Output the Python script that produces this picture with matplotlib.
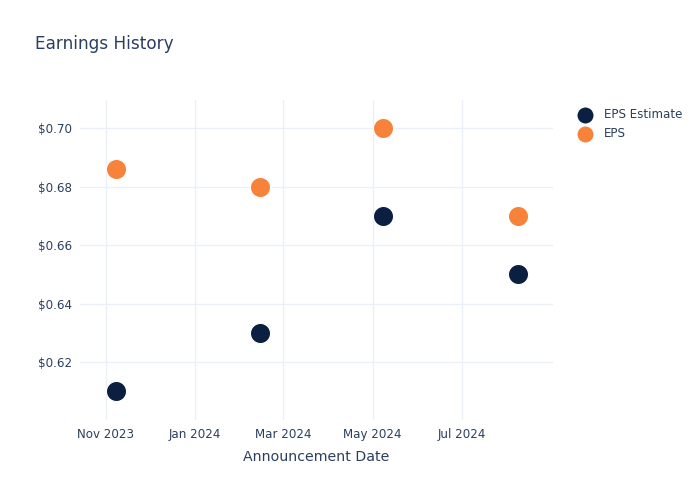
import numpy as np
import matplotlib.pyplot as plt
import matplotlib.dates as mdates
from datetime import datetime

# data
dates = ['2023-11-08', '2024-02-14', '2024-05-08', '2024-08-08']
eps_estimate = [0.61, 0.63, 0.67, 0.65]
eps_actual = [0.686, 0.68, 0.70, 0.67]
tick_dates = ['2023-11-01', '2024-01-01', '2024-03-01', '2024-05-01', '2024-07-01']
y_ticks = [0.62, 0.64, 0.66, 0.68, 0.70]

text_c = '#2a3f5f'
grid_c = '#ebf0f8'
navy = '#0b1f41'
orange = '#f7823a'

x = [datetime.strptime(d, '%Y-%m-%d') for d in dates]
xt = [datetime.strptime(d, '%Y-%m-%d') for d in tick_dates]

fig = plt.figure(figsize=(7, 5), dpi=100)
ax = fig.add_axes([80/700, 80/500, 473/700, 320/500])

ax.scatter(x, eps_estimate, s=210, color=navy, edgecolors='white', linewidths=0.8,
           label='EPS Estimate', zorder=3)
ax.scatter(x, eps_actual, s=210, color=orange, edgecolors='white', linewidths=0.8,
           label='EPS', zorder=3)

ax.set_xlim(datetime(2023, 10, 14, 12), datetime(2024, 9, 1))
ax.set_ylim(0.6002, 0.7096)
ax.set_xticks(xt)
ax.xaxis.set_major_formatter(mdates.DateFormatter('%b %Y'))
ax.set_yticks(y_ticks)
ax.yaxis.set_major_formatter(plt.FuncFormatter(lambda v, p: '${:.2f}'.format(v)))
ax.tick_params(length=0, labelsize=8.6, colors=text_c, pad=6)
ax.grid(True, color=grid_c, linewidth=1)
ax.set_axisbelow(True)
for s in ax.spines.values():
    s.set_visible(False)

ax.set_xlabel('Announcement Date', fontsize=10.2, color=text_c, labelpad=6.4)
fig.text(35/700, 1 - 44/500, 'Earnings History', fontsize=12.2, color=text_c, va='center')

fig.legend(loc='upper left', bbox_to_anchor=(573/700, 1 - 108/500), frameon=False,
           fontsize=8.6, labelcolor=text_c, handletextpad=0.6, labelspacing=0.5,
           borderaxespad=0, borderpad=0, markerscale=0.85)

fig.savefig('out.png', dpi=100)
